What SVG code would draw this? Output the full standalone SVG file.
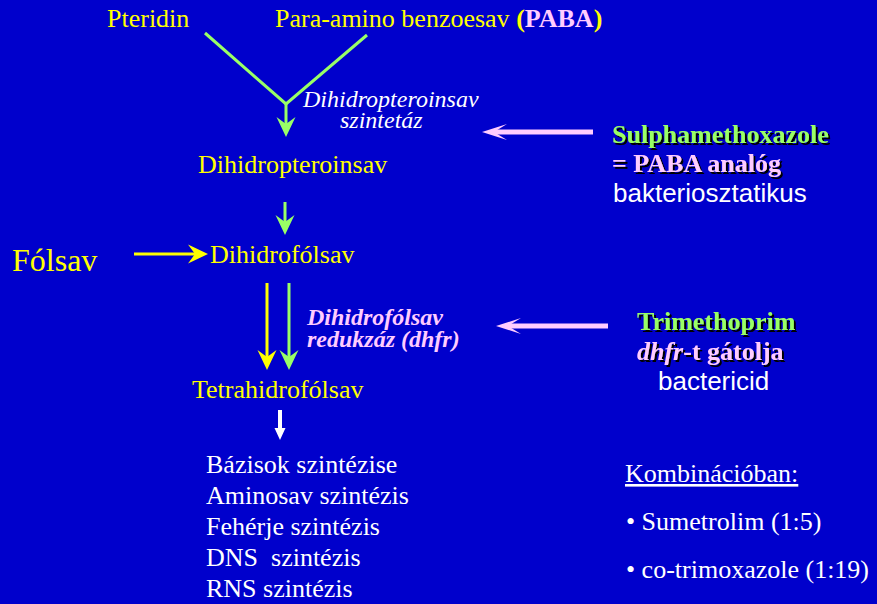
<svg xmlns="http://www.w3.org/2000/svg" width="877" height="604" viewBox="0 0 877 604">
<defs>
<style>
.t{font-family:"Liberation Serif","Times New Roman",serif;font-size:26px;}
.s{font-family:"Liberation Sans",Arial,sans-serif;font-size:26px;fill:#FFFFFF;}
.y{fill:#FFFF00;}
.w{fill:#FFFFFF;}
.g{fill:#99FF66;}
.p{fill:#FFCCFF;}
.b{font-weight:bold;}
.i{font-style:italic;}
.sh{filter:url(#shadow);}
.lg{stroke:#99FF66;stroke-width:3;fill:none;}
.ly{stroke:#FFFF00;stroke-width:3;fill:none;}
.lp{stroke:#FFCCFF;stroke-width:5;fill:none;}
</style>
<filter id="shadow" x="-5%" y="-20%" width="115%" height="150%">
<feDropShadow dx="2" dy="2" stdDeviation="0" flood-color="#000000" flood-opacity="1"/>
</filter>
<marker id="hg" viewBox="-20 -10 20 20" refX="-13" refY="0" markerWidth="20" markerHeight="20" markerUnits="userSpaceOnUse" orient="auto">
<path d="M0,0 L-20,-9.5 L-13,0 L-20,9.5 Z" fill="#99FF66"/>
</marker>
<marker id="hy" viewBox="-20 -10 20 20" refX="-13" refY="0" markerWidth="20" markerHeight="20" markerUnits="userSpaceOnUse" orient="auto">
<path d="M0,0 L-20,-9.5 L-13,0 L-20,9.5 Z" fill="#FFFF00"/>
</marker>
<marker id="hp" viewBox="-26 -10 26 20" refX="-12" refY="0" markerWidth="26" markerHeight="20" markerUnits="userSpaceOnUse" orient="auto">
<path d="M0,0 L-25,-8 L-12,0 L-25,8 Z" fill="#FFCCFF"/>
</marker>
</defs>
<rect x="0" y="0" width="877" height="604" fill="#0000CC"/>

<g id="connectors">
<polyline class="lg" points="205,33 286,104 367,35"/>
<line class="lg" x1="286" y1="103" x2="286" y2="124" marker-end="url(#hg)"/>
<line class="lg" x1="285" y1="202" x2="285" y2="222" marker-end="url(#hg)"/>
<line class="ly" x1="134" y1="254" x2="195" y2="254" marker-end="url(#hy)"/>
<line class="ly" x1="267" y1="283" x2="267" y2="357" marker-end="url(#hy)"/>
<line class="lg" x1="289" y1="283" x2="289" y2="357" marker-end="url(#hg)"/>
<line class="lp" x1="593" y1="132" x2="494" y2="132" marker-end="url(#hp)"/>
<line class="lp" x1="608" y1="326" x2="508" y2="326" marker-end="url(#hp)"/>
<path d="M278,410 H282 V428 H285.5 L280,440 L274.5,428 H278 Z" fill="#FFFFFF"/>
</g>

<g id="pteridin"><text class="t y" x="107" y="27">Pteridin</text></g>
<g id="paba"><text class="t y" x="275" y="27">Para-amino benzoesav <tspan class="b">(</tspan><tspan class="b p">PABA</tspan><tspan class="b">)</tspan></text></g>
<g id="enzyme1"><text class="t w i" style="font-size:24px" x="303" y="107">Dihidropteroinsav</text><text class="t w i" style="font-size:24px" x="340" y="128">szintetáz</text></g>
<g id="dihidropteroinsav"><text class="t y" x="198" y="173">Dihidropteroinsav</text></g>
<g id="sulpha">
<text class="t b g sh" x="612" y="143">Sulphamethoxazole</text>
<text class="t b p sh" x="612" y="172">= PABA analóg</text>
<text class="s" x="613" y="202">bakteriosztatikus</text>
</g>
<g id="folsav"><text class="t y" style="font-size:32px" x="12" y="271">Fólsav</text></g>
<g id="dihidrofolsav"><text class="t y" x="210" y="263">Dihidrofólsav</text></g>
<g id="enzyme2"><text class="t b i p" style="font-size:24px" x="307" y="325">Dihidrofólsav</text><text class="t b i p" style="font-size:24px" x="307" y="347">redukzáz (dhfr)</text></g>
<g id="trimethoprim">
<text class="t b g sh" x="637" y="330">Trimethoprim</text>
<text class="t b p sh" x="637" y="360"><tspan class="i">dhfr</tspan>-t gátolja</text>
<text class="s" x="658" y="390">bactericid</text>
</g>
<g id="tetrahidrofolsav"><text class="t y" x="192" y="398">Tetrahidrofólsav</text></g>
<g id="products">
<text class="t w" x="206" y="473">Bázisok szintézise</text>
<text class="t w" x="206" y="504">Aminosav szintézis</text>
<text class="t w" x="206" y="535">Fehérje szintézis</text>
<text class="t w" x="206" y="566" xml:space="preserve">DNS  szintézis</text>
<text class="t w" x="206" y="597">RNS szintézis</text>
</g>
<g id="kombinacio">
<text class="t w" x="625" y="482" text-decoration="underline">Kombinációban:</text>
<text class="t w" x="626" y="530">• Sumetrolim (1:5)</text>
<text class="t w" x="626" y="578">• co-trimoxazole (1:19)</text>
</g>
</svg>
